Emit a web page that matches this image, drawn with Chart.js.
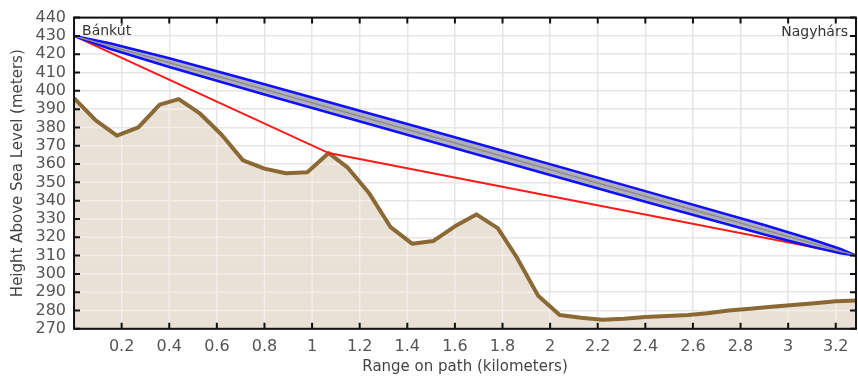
<!DOCTYPE html>
<html>
<head>
<meta charset="utf-8">
<script src="https://cdn.jsdelivr.net/npm/chart.js@4.4.0/dist/chart.umd.min.js"></script>
<style>
  html, body { margin: 0; padding: 0; background: #fff; }
  #wrap { width: 858px; height: 376px; }
</style>
</head>
<body>
<div id="wrap"><canvas id="profile"></canvas></div>
<script>
// terrain profile along the path
const pathKm = [0, 0.09, 0.18, 0.27, 0.36, 0.44, 0.53, 0.62, 0.71, 0.80, 0.89, 0.98, 1.07,
  1.15, 1.24, 1.33, 1.42, 1.51, 1.60, 1.69, 1.78, 1.86, 1.95, 2.04, 2.13, 2.22, 2.31,
  2.40, 2.49, 2.58, 2.66, 2.75, 2.84, 2.93, 3.02, 3.11, 3.20, 3.285];
const terrainM = [396, 384, 375.5, 380, 392.5, 395.5, 387.5, 376, 362, 357.5, 355, 355.5, 366,
  358, 344, 325.5, 316.5, 318, 326, 332.5, 325, 309, 288, 277.5, 276, 275, 275.5,
  276.5, 277, 277.5, 278.5, 280, 281, 282, 283, 284, 285, 285.5];

// direct line of sight and the zone around it
const sightKm = [0, 3.285];
const sightM = [430, 310];
const zoneKm = [0, 0.15, 0.4, 0.8, 1.6, 2.4, 2.9, 3.1, 3.22, 3.285];
const zoneTopM = [430, 426.0, 417.8, 403.6, 374.6, 345.2, 326.7, 318.8, 313.6, 310];
const zoneBottomM = [430, 423.0, 413.0, 398.0, 368.6, 339.4, 321.5, 314.8, 311.2, 310];

// path over the highest obstacle
const bentKm = [0, 1.07, 3.285];
const bentM = [430, 366, 310];

const xTicks = [0.2, 0.4, 0.6, 0.8, 1, 1.2, 1.4, 1.6, 1.8, 2, 2.2, 2.4, 2.6, 2.8, 3, 3.2];
const yTicks = [270, 280, 290, 300, 310, 320, 330, 340, 350, 360, 370, 380, 390, 400, 410, 420, 430, 440];
const endNames = ["Bánkút", "Nagyhárs"];

function pts(xs, ys) {
  return xs.map((x, i) => ({ x: x, y: ys[i] }));
}

const frame = {
  id: "frame",
  // light grid over the ground fill
  afterDatasetDraw(chart, args) {
    if (args.index !== 0) return;
    const { ctx, chartArea: a, scales } = chart;
    const p = args.meta.data;
    ctx.save();
    ctx.beginPath();
    ctx.moveTo(p[0].x, a.bottom);
    p.forEach((q) => ctx.lineTo(q.x, q.y));
    ctx.lineTo(p[p.length - 1].x, a.bottom);
    ctx.closePath();
    ctx.clip();
    ctx.strokeStyle = "#f2eee9";
    ctx.lineWidth = 1.5;
    scales.x.ticks.forEach((t) => {
      const x = scales.x.getPixelForValue(t.value);
      ctx.beginPath(); ctx.moveTo(x, a.top); ctx.lineTo(x, a.bottom); ctx.stroke();
    });
    scales.y.ticks.forEach((t) => {
      const y = scales.y.getPixelForValue(t.value);
      ctx.beginPath(); ctx.moveTo(a.left, y); ctx.lineTo(a.right, y); ctx.stroke();
    });
    ctx.restore();
  },
  afterDraw(chart) {
    const { ctx, chartArea: a, scales } = chart;
    ctx.save();
    ctx.strokeStyle = "#111";
    ctx.lineWidth = 2;
    ctx.strokeRect(a.left, a.top, a.right - a.left, a.bottom - a.top);
    const len = 6;
    scales.x.ticks.forEach((t) => {
      const x = scales.x.getPixelForValue(t.value);
      ctx.beginPath();
      ctx.moveTo(x, a.bottom); ctx.lineTo(x, a.bottom - len);
      ctx.moveTo(x, a.top); ctx.lineTo(x, a.top + len);
      ctx.stroke();
    });
    scales.y.ticks.forEach((t) => {
      const y = scales.y.getPixelForValue(t.value);
      ctx.beginPath();
      ctx.moveTo(a.left, y); ctx.lineTo(a.left + len, y);
      ctx.moveTo(a.right, y); ctx.lineTo(a.right - len, y);
      ctx.stroke();
    });
    ctx.fillStyle = "#333";
    ctx.font = "14px 'DejaVu Sans'";
    ctx.textBaseline = "middle";
    ctx.textAlign = "left";
    ctx.fillText(endNames[0], a.left + 8, a.top + 14);
    ctx.textAlign = "right";
    ctx.fillText(endNames[1], a.right - 8, a.top + 15);
    ctx.restore();
  }
};

new Chart(document.getElementById("profile"), {
  type: "line",
  data: {
    datasets: [
      {
        data: pts(pathKm, terrainM),
        borderWidth: 0,
        backgroundColor: "#e9e0d6",
        fill: "start",
        pointRadius: 0,
        order: 6
      },
      {
        data: pts(pathKm, terrainM),
        borderColor: "#8b6934",
        borderWidth: 4,
        borderJoinStyle: "round",
        fill: false,
        pointRadius: 0,
        order: 5
      },
      {
        data: pts(bentKm, bentM),
        borderColor: "#ff1a1a",
        borderWidth: 2,
        fill: false,
        pointRadius: 0,
        order: 4
      },
      {
        data: pts(zoneKm, zoneTopM),
        borderColor: "#1010ff",
        borderWidth: 2.5,
        backgroundColor: "rgba(150,150,165,0.75)",
        fill: "+1",
        pointRadius: 0,
        order: 3
      },
      {
        data: pts(zoneKm, zoneBottomM),
        borderColor: "#1010ff",
        borderWidth: 2.5,
        fill: false,
        pointRadius: 0,
        order: 2
      },
      {
        data: pts(sightKm, sightM),
        borderColor: "#8c8c8c",
        borderWidth: 1.5,
        fill: false,
        pointRadius: 0,
        order: 1
      }
    ]
  },
  options: {
    responsive: true,
    maintainAspectRatio: false,
    animation: false,
    layout: { padding: { left: 0, top: 17, right: 2, bottom: 0 } },
    plugins: {
      legend: { display: false },
      tooltip: { enabled: false }
    },
    scales: {
      x: {
        type: "linear",
        min: 0,
        max: 3.285,
        afterBuildTicks: (s) => { s.ticks = xTicks.map((v) => ({ value: v })); },
        ticks: {
          autoSkip: false,
          maxRotation: 0,
          padding: 8,
          color: "#555",
          font: { family: "'DejaVu Sans'", size: 16 },
          callback: (v) => String(v)
        },
        grid: { color: "#e6e6e6", lineWidth: 1.5, drawTicks: false },
        border: { display: false },
        title: {
          display: true,
          text: "Range on path (kilometers)",
          color: "#444",
          font: { family: "'DejaVu Sans'", size: 15 },
          padding: { top: -6, bottom: 0 }
        }
      },
      y: {
        min: 270,
        max: 440,
        afterBuildTicks: (s) => { s.ticks = yTicks.map((v) => ({ value: v })); },
        ticks: {
          autoSkip: false,
          padding: 8,
          color: "#555",
          font: { family: "'DejaVu Sans'", size: 16 }
        },
        grid: { color: "#e6e6e6", lineWidth: 1.5, drawTicks: false },
        border: { display: false },
        title: {
          display: true,
          text: "Height Above Sea Level (meters)",
          color: "#444",
          font: { family: "'DejaVu Sans'", size: 15 },
          padding: { top: 9.5, bottom: 0 }
        }
      }
    }
  },
  plugins: [frame]
});
</script>
</body>
</html>
